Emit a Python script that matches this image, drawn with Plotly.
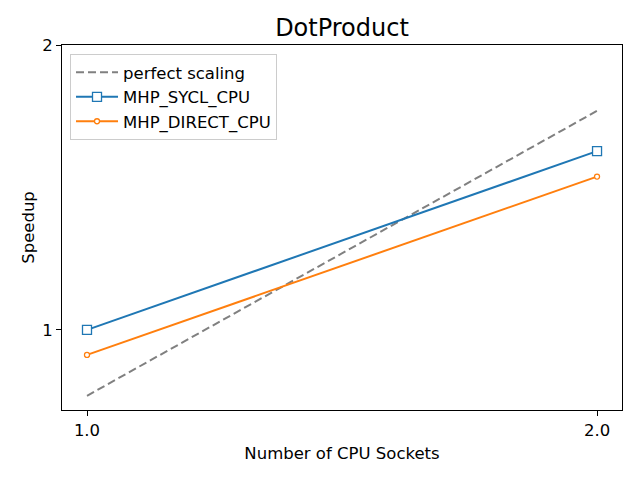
import math
import plotly.graph_objects as go

sockets = [1.0, 2.0]
perfect = [0.852, 1.704]
sycl = [1.0, 1.545]
direct = [0.941, 1.452]
x_ticks = [1, 2]
x_ticktext = ["1.0", "2.0"]
y_ticks = [1, 2]
y_ticktext = ["1", "2"]

font = "DejaVu Sans"
FS = 16.5
fig = go.Figure()
fig.add_trace(go.Scatter(x=sockets, y=perfect, mode="lines", name="perfect scaling",
                         line=dict(color="#808080", dash="8px,4px", width=2)))
fig.add_trace(go.Scatter(x=sockets, y=sycl, mode="lines+markers", name="MHP_SYCL_CPU",
                         line=dict(color="#1f77b4", width=2),
                         marker=dict(symbol="square", size=9, color="white",
                                     line=dict(color="#1f77b4", width=1.3))))
fig.add_trace(go.Scatter(x=sockets, y=direct, mode="lines+markers", name="MHP_DIRECT_CPU",
                         line=dict(color="#ff7f0e", width=2),
                         marker=dict(symbol="circle", size=5, color="white",
                                     line=dict(color="#ff7f0e", width=1.3))))

axis_common = dict(showgrid=False, zeroline=False, showline=True, linecolor="black",
                   linewidth=1, mirror=True, ticks="outside", ticklen=5, tickcolor="black",
                   tickfont=dict(family=font, size=FS, color="black"))
fig.update_xaxes(type="log", range=[math.log10(0.9666), math.log10(2.069)],
                 tickvals=x_ticks, ticktext=x_ticktext,
                 title=dict(text="Number of CPU Sockets", font=dict(family=font, size=FS, color="black"), standoff=8),
                 **axis_common)
fig.update_yaxes(type="log", range=[math.log10(0.823), math.log10(2.0)],
                 tickvals=y_ticks, ticktext=y_ticktext,
                 title=dict(text="Speedup", font=dict(family=font, size=FS, color="black"), standoff=3),
                 **axis_common)
# page body has an 8px margin: figure is placed at (8, 8)
fig.update_layout(
    width=632, height=472,
    margin=dict(l=54, r=18, t=37, b=70),
    paper_bgcolor="white", plot_bgcolor="white",
    title=dict(text="DotProduct", x=(342 - 8) / 632, xanchor="center",
               y=1 - 20 / 472, yanchor="middle",
               font=dict(family=font, size=24, color="black")),
    legend=dict(x=0.0143, y=0.975, xanchor="left", yanchor="top",
                bgcolor="rgba(255,255,255,0.8)", bordercolor="#cccccc", borderwidth=1,
                font=dict(family=font, size=FS, color="black"), tracegroupgap=0,
                itemwidth=42),
    showlegend=True,
)
fig.write_html("out.html")
